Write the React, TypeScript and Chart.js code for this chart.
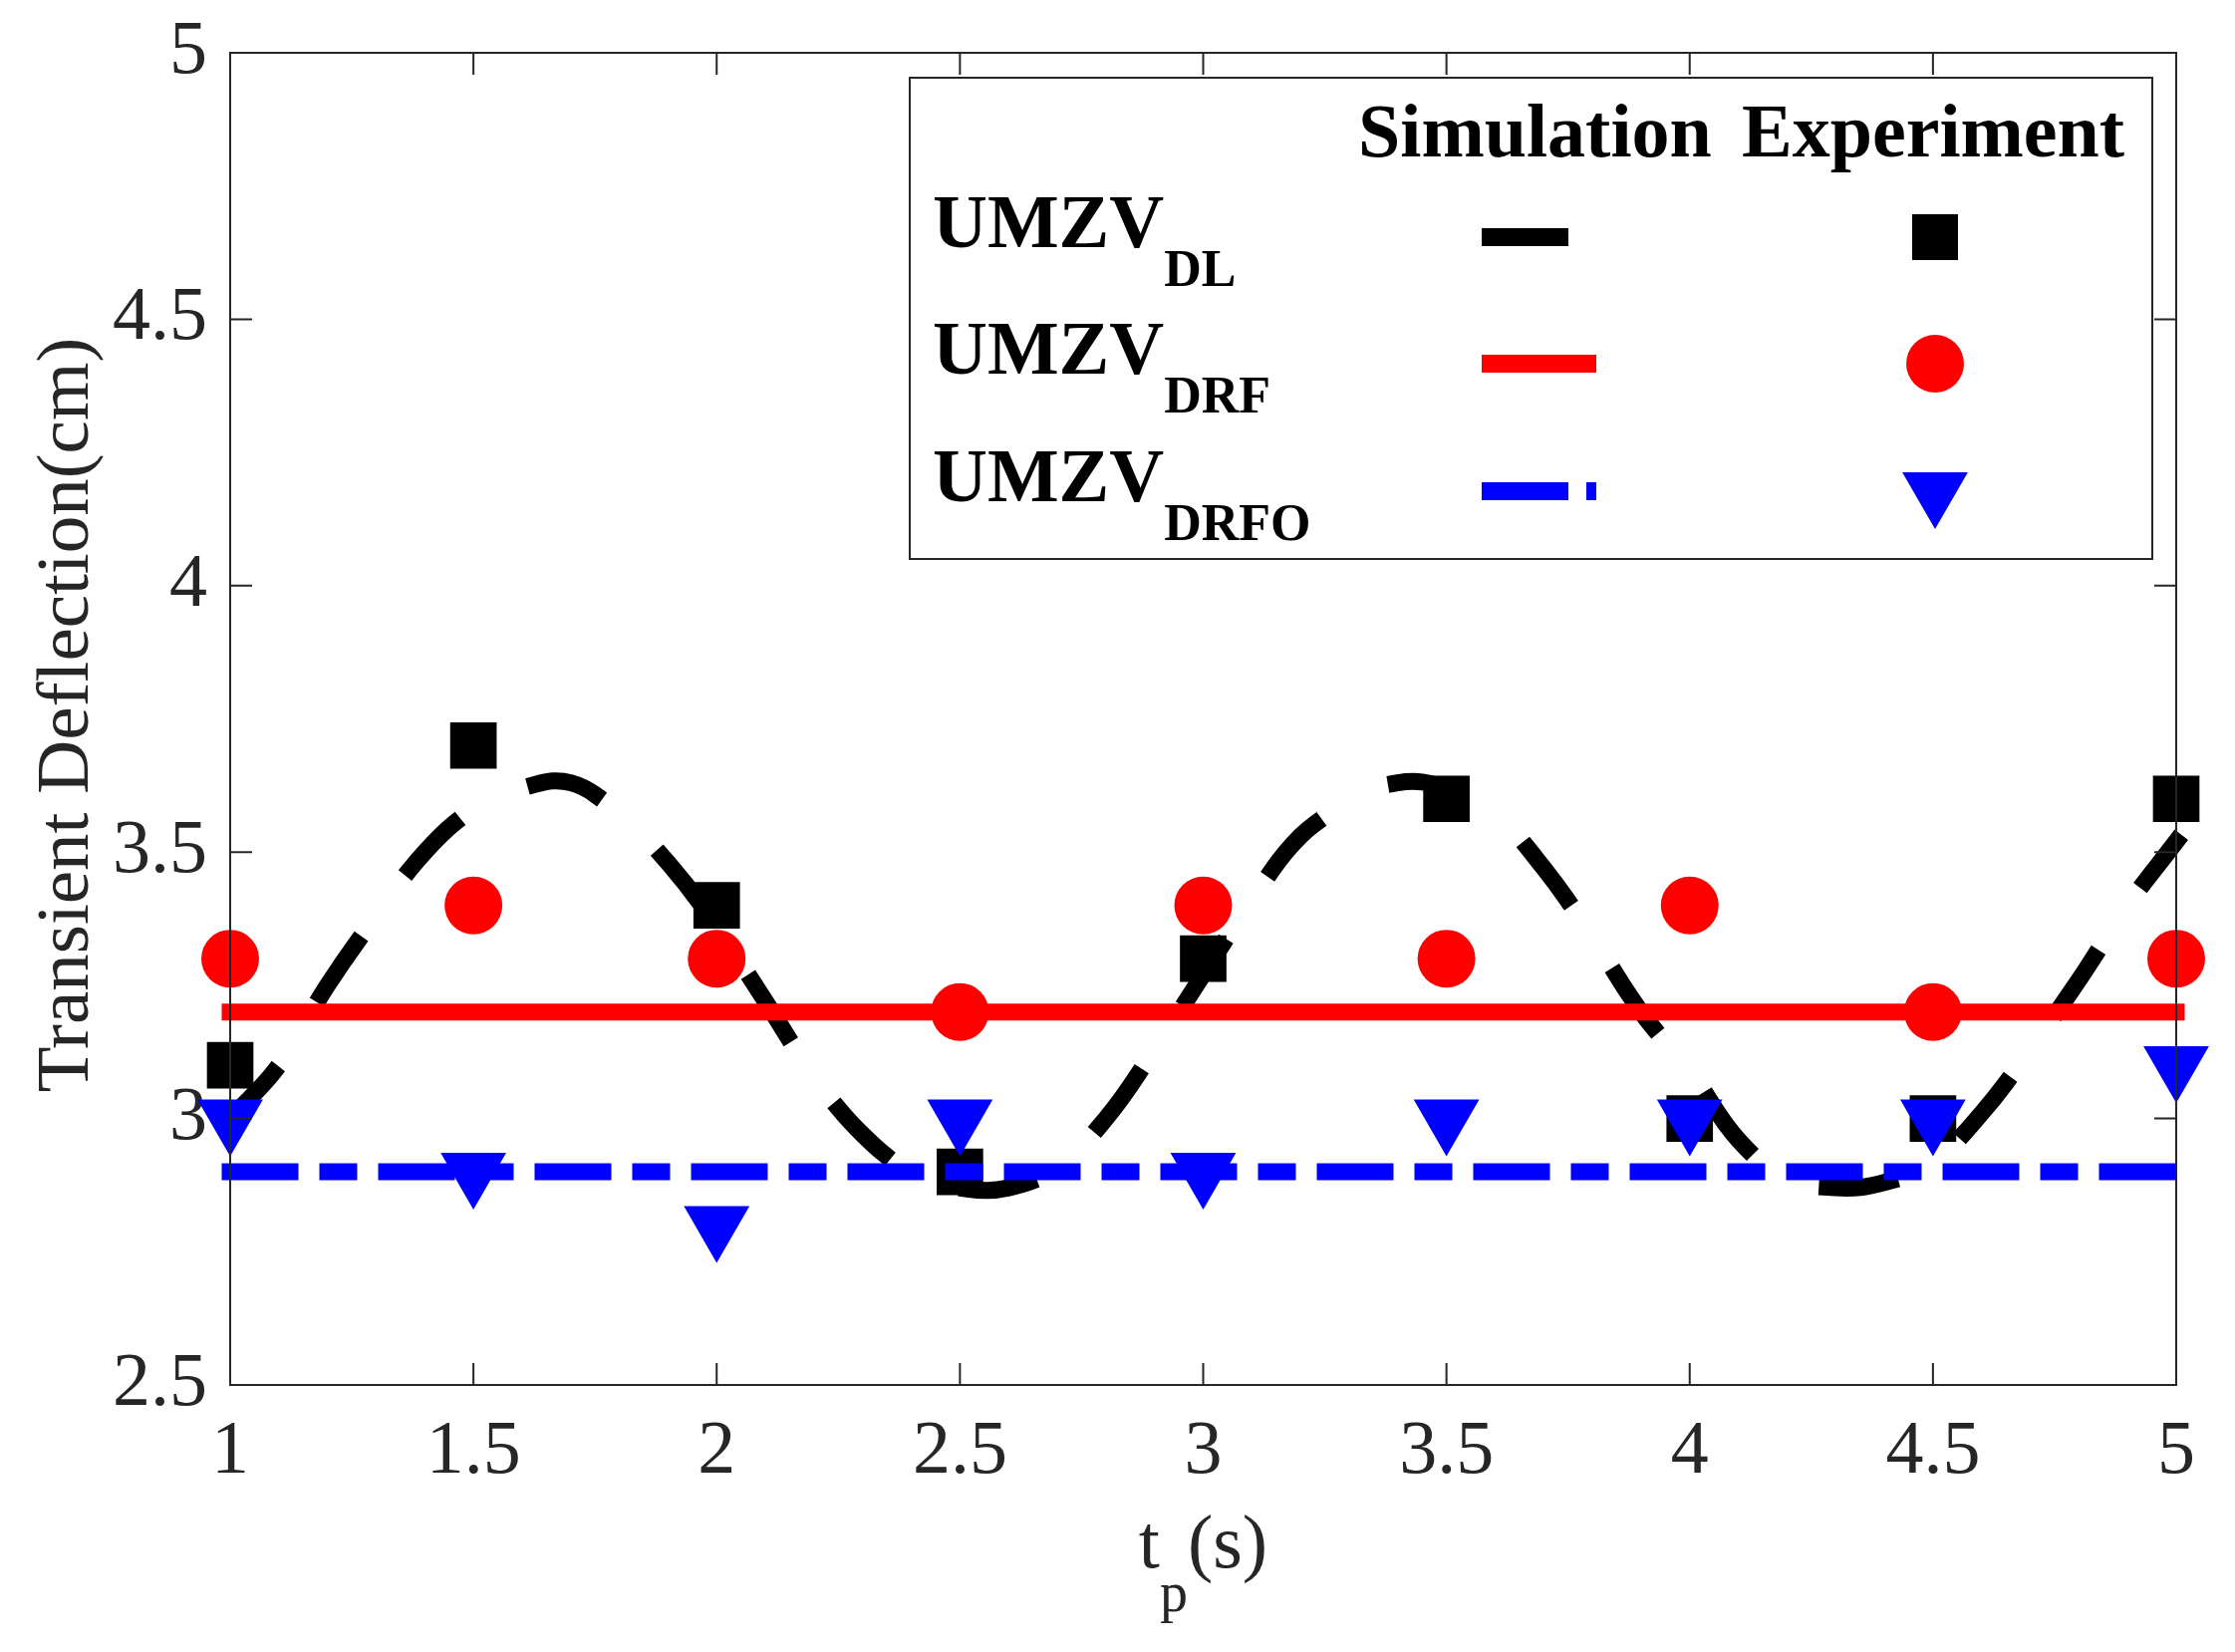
import { useEffect, useRef } from 'react'
import { Chart, registerables } from 'chart.js'
Chart.register(...registerables)

// experiment points (one per tp)
const X_EXP = [1, 1.5, 2, 2.5, 3, 3.5, 4, 4.5, 5]
const EXP_DL = [3.1, 3.7, 3.4, 2.9, 3.3, 3.6, 3.0, 3.0, 3.6]
const EXP_DRF = [3.3, 3.4, 3.3, 3.2, 3.4, 3.3, 3.4, 3.2, 3.3]
const EXP_DRFO = [3.0, 2.9, 2.8, 3.0, 2.9, 3.0, 3.0, 3.0, 3.1]

// simulation curves
const SIM_DRF = [3.2, 3.2, 3.2, 3.2, 3.2, 3.2, 3.2, 3.2, 3.2]
const SIM_DRFO = [2.9, 2.9, 2.9, 2.9, 2.9, 2.9, 2.9, 2.9, 2.9]
const X_SIM = [
    1.0, 1.1, 1.2, 1.3, 1.4, 1.5, 1.6, 1.7, 1.8, 1.9,
    2.0, 2.1, 2.2, 2.3, 2.4, 2.5, 2.6, 2.7, 2.8, 2.9,
    3.0, 3.1, 3.2, 3.3, 3.4, 3.5, 3.6, 3.7, 3.8, 3.9,
    4.0, 4.1, 4.2, 4.3, 4.4, 4.5, 4.6, 4.7, 4.8, 4.9, 5.0,
]
const SIM_DL = [
    3.00, 3.10, 3.25, 3.38, 3.50, 3.58, 3.62, 3.63, 3.57, 3.48,
    3.36, 3.22, 3.08, 2.97, 2.90, 2.87, 2.87, 2.91, 3.00, 3.13,
    3.27, 3.41, 3.53, 3.59, 3.63, 3.62, 3.57, 3.47, 3.34, 3.20,
    3.09, 2.96, 2.89, 2.87, 2.88, 2.92, 3.01, 3.13, 3.26, 3.40, 3.52,
]

const LEGEND_HEADERS = ['Simulation', 'Experiment']
const LEGEND_NAMES = ['UMZV', 'UMZV', 'UMZV']
const LEGEND_SUBS = ['DL', 'DRF', 'DRFO']
const X_TITLE = ['t', 'p', '(s)']
const Y_TITLE = 'Transient Deflection(cm)'

const W = 2243
const H = 1658
const AXIS = '#262626'
const SERIF = "'Liberation Serif', 'Times New Roman', serif"
const TICK_LEN = 22

const pts = (xs: number[], ys: number[]) => xs.map((x, i) => ({ x, y: ys[i] }))
const plainLabel = (v: any) => String(Number(v))

function drawMarker(ctx: CanvasRenderingContext2D, style: string, x: number, y: number, color: string) {
    ctx.fillStyle = color
    ctx.beginPath()
    if (style === 'rect') {
        ctx.rect(x - 23, y - 23, 46, 46)
    } else if (style === 'circle') {
        ctx.arc(x, y, 29, 0, Math.PI * 2)
    } else {
        const r = 38
        ctx.moveTo(x, y + r)
        ctx.lineTo(x - r * Math.sin(Math.PI / 3), y - r / 2)
        ctx.lineTo(x + r * Math.sin(Math.PI / 3), y - r / 2)
        ctx.closePath()
    }
    ctx.fill()
}

const boxPlugin = {
    id: 'matlabBox',
    afterDatasetsDraw(chart: any) {
        const { ctx, chartArea: a, scales } = chart
        ctx.save()
        ctx.strokeStyle = AXIS
        ctx.lineWidth = 2
        ctx.strokeRect(a.left, a.top, a.right - a.left, a.bottom - a.top)
        ctx.beginPath()
        for (const t of scales.x.ticks) {
            const px = scales.x.getPixelForValue(t.value)
            ctx.moveTo(px, a.bottom); ctx.lineTo(px, a.bottom - TICK_LEN)
            ctx.moveTo(px, a.top); ctx.lineTo(px, a.top + TICK_LEN)
        }
        for (const t of scales.y.ticks) {
            const py = scales.y.getPixelForValue(t.value)
            ctx.moveTo(a.left, py); ctx.lineTo(a.left + TICK_LEN, py)
            ctx.moveTo(a.right, py); ctx.lineTo(a.right - TICK_LEN, py)
        }
        ctx.stroke()
        ctx.restore()
    },
}

const titlePlugin = {
    id: 'axisTitles',
    afterDraw(chart: any) {
        const { ctx, chartArea: a } = chart
        ctx.save()
        ctx.fillStyle = AXIS
        ctx.textBaseline = 'alphabetic'

        // y title, rotated
        ctx.font = `75px ${SERIF}`
        ctx.translate(88, (a.top + a.bottom) / 2 - 4)
        ctx.rotate(-Math.PI / 2)
        ctx.textAlign = 'center'
        ctx.fillText(Y_TITLE, 0, 0)
        ctx.setTransform(1, 0, 0, 1, 0, 0)

        // x title t_p(s)
        ctx.textAlign = 'left'
        const big = `76px ${SERIF}`
        const small = `56px ${SERIF}`
        ctx.font = big
        const w0 = ctx.measureText(X_TITLE[0]).width
        const w2 = ctx.measureText(X_TITLE[2]).width
        ctx.font = small
        const w1 = ctx.measureText(X_TITLE[1]).width
        let x = (a.left + a.right) / 2 - (w0 + w1 + w2) / 2
        const base = a.bottom + 183
        ctx.font = big
        ctx.fillText(X_TITLE[0], x, base)
        x += w0
        ctx.font = small
        ctx.fillText(X_TITLE[1], x, base + 44)
        x += w1
        ctx.font = big
        ctx.fillText(X_TITLE[2], x, base)
        ctx.restore()
    },
}

const legendPlugin = {
    id: 'tableLegend',
    afterDraw(chart: any) {
        const { ctx, chartArea: a } = chart
        const bw = 1247, bh = 483
        const left = a.right - 24 - bw
        const top = a.top + 25
        ctx.save()
        ctx.fillStyle = '#ffffff'
        ctx.fillRect(left, top, bw, bh)
        ctx.strokeStyle = AXIS
        ctx.lineWidth = 2
        ctx.strokeRect(left, top, bw, bh)

        ctx.fillStyle = '#000000'
        ctx.textBaseline = 'alphabetic'
        ctx.textAlign = 'left'
        ctx.font = `bold 76px ${SERIF}`
        ctx.fillText(LEGEND_HEADERS[0], left + 450, top + 79)
        ctx.fillText(LEGEND_HEADERS[1], left + 835, top + 79)

        const rowBase = [170, 297, 425]
        const lineStyles = [
            { color: '#000000', dash: [87, 40] },
            { color: '#ff0000', dash: [] as number[] },
            { color: '#0000ff', dash: [87, 18, 10, 18] },
        ]
        const markers = [
            { style: 'rect', color: '#000000' },
            { style: 'circle', color: '#ff0000' },
            { style: 'triangle', color: '#0000ff' },
        ]
        LEGEND_NAMES.forEach((name, i) => {
            const by = top + rowBase[i]
            ctx.fillStyle = '#000000'
            ctx.font = `bold 76px ${SERIF}`
            ctx.fillText(name, left + 23, by)
            const nw = ctx.measureText(name).width
            ctx.font = `bold 52px ${SERIF}`
            ctx.fillText(LEGEND_SUBS[i], left + 23 + nw, by + 39)

            const ly = by - 10
            ctx.strokeStyle = lineStyles[i].color
            ctx.lineWidth = 18
            ctx.lineCap = 'butt'
            ctx.setLineDash(lineStyles[i].dash)
            ctx.beginPath()
            ctx.moveTo(left + 574, ly)
            ctx.lineTo(left + 689, ly)
            ctx.stroke()
            ctx.setLineDash([])

            drawMarker(ctx, markers[i].style, left + 1029, ly, markers[i].color)
        })
        ctx.restore()
    },
}

export default function App() {
    const canvasRef = useRef<HTMLCanvasElement>(null)
    const chartRef = useRef<Chart | null>(null)

    useEffect(() => {
        if (!canvasRef.current) return
        const ctx = canvasRef.current.getContext('2d')!
        chartRef.current?.destroy()
        const tickFont = { family: SERIF, size: 76 }
        chartRef.current = new Chart(ctx, {
            type: 'scatter',
            data: {
                datasets: [
                    {
                        label: 'UMZV DL simulation',
                        data: pts(X_SIM, SIM_DL),
                        showLine: true, borderColor: '#000000', borderWidth: 17,
                        borderDash: [63, 92], borderCapStyle: 'square',
                        tension: 0.4, pointRadius: 0, order: 6, clip: false,
                    },
                    {
                        label: 'UMZV DL experiment',
                        data: pts(X_EXP, EXP_DL),
                        pointStyle: 'rect', pointRadius: 33, pointBorderWidth: 0,
                        pointBackgroundColor: '#000000', order: 5, clip: false,
                    },
                    {
                        label: 'UMZV DRF simulation',
                        data: pts(X_EXP, SIM_DRF),
                        showLine: true, borderColor: '#ff0000', borderWidth: 17,
                        borderCapStyle: 'square', pointRadius: 0, order: 4, clip: false,
                    },
                    {
                        label: 'UMZV DRF experiment',
                        data: pts(X_EXP, EXP_DRF),
                        pointStyle: 'circle', pointRadius: 29, pointBorderWidth: 0,
                        pointBackgroundColor: '#ff0000', order: 3, clip: false,
                    },
                    {
                        label: 'UMZV DRFO simulation',
                        data: pts(X_EXP, SIM_DRFO),
                        showLine: true, borderColor: '#0000ff', borderWidth: 17,
                        borderDash: [60, 38, 21, 38], borderCapStyle: 'square',
                        pointRadius: 0, order: 2, clip: false,
                    },
                    {
                        label: 'UMZV DRFO experiment',
                        data: pts(X_EXP, EXP_DRFO),
                        pointStyle: 'triangle', pointRotation: 180, pointRadius: 38,
                        pointBorderWidth: 0, pointBackgroundColor: '#0000ff', order: 1, clip: false,
                    },
                ],
            },
            options: {
                responsive: false, animation: false, devicePixelRatio: 1, events: [],
                layout: { padding: { left: 0, top: 53, right: 59, bottom: 0 } },
                plugins: { legend: { display: false }, tooltip: { enabled: false } },
                scales: {
                    x: {
                        type: 'linear', min: 1, max: 5,
                        grid: { display: false, drawTicks: false }, border: { display: false },
                        ticks: { stepSize: 0.5, autoSkip: false, maxRotation: 0, padding: 22, color: AXIS, font: tickFont, callback: plainLabel },
                        afterFit: (s: any) => { s.height = 268; s.paddingLeft = 0; s.paddingRight = 0 },
                    },
                    y: {
                        type: 'linear', min: 2.5, max: 5,
                        grid: { display: false, drawTicks: false }, border: { display: false },
                        ticks: { stepSize: 0.5, autoSkip: false, padding: 23, color: AXIS, font: tickFont, callback: plainLabel },
                        afterFit: (s: any) => { s.width = 231; s.paddingTop = 0; s.paddingBottom = 0 },
                    },
                },
            },
            plugins: [boxPlugin, titlePlugin, legendPlugin],
        })
        return () => chartRef.current?.destroy()
    }, [])

    return (
        <div style={{ position: 'fixed', left: 0, top: 0, width: W, height: H, background: '#ffffff' }}>
            <canvas ref={canvasRef} width={W} height={H} style={{ display: 'block' }} />
        </div>
    )
}
